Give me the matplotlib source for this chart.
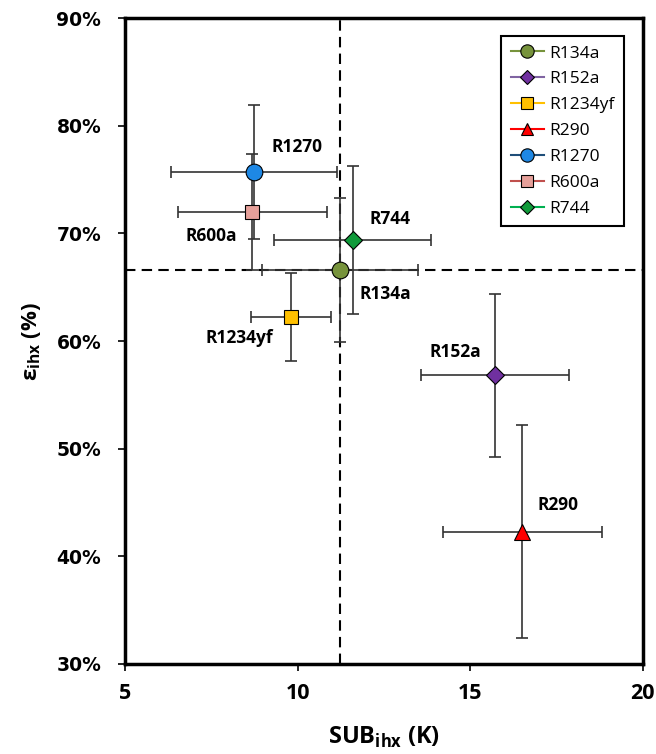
import numpy as np
import matplotlib
matplotlib.use("Agg")
import matplotlib.pyplot as plt
from matplotlib.ticker import FuncFormatter

plt.rcParams['mathtext.fontset'] = 'custom'
plt.rcParams['mathtext.rm'] = 'Open Sans:bold'
plt.rcParams['mathtext.bf'] = 'Open Sans:bold'

# data
refrigerants = ['R134a', 'R152a', 'R1234yf', 'R290', 'R1270', 'R600a', 'R744']
sub_ihx = [11.23, 15.72, 9.82, 16.51, 8.74, 8.69, 11.59]        # K
sub_err = [2.25, 2.15, 1.16, 2.3, 2.4, 2.15, 2.26]
eps_ihx = [66.6, 56.8, 62.2, 42.3, 75.7, 72.0, 69.4]           # %
eps_err = [6.7, 7.6, 4.1, 9.9, 6.2, 5.4, 6.9]

marker_shapes = ['o', 'D', 's', '^', 'o', 's', 'D']
face_colors = ['#77933C', '#7030A0', '#FFC000', '#FF0000', '#1E88E5', '#E6A09A', '#109A3A']
line_colors = ['#77933C', '#8064A2', '#FFC000', '#FF0000', '#1F4E79', '#C0504D', '#00B050']
marker_sizes = [12, 9, 10.5, 11.5, 12, 10.5, 9.5]

# label positions (data coords)
label_pos = {
    'R1270': (9.98, 78.0), 'R600a': (7.5, 69.8), 'R744': (12.67, 71.3),
    'R134a': (12.53, 64.4), 'R1234yf': (8.3, 60.3), 'R152a': (14.56, 59.0),
    'R290': (17.54, 44.8),
}

fig = plt.figure(figsize=(6.56, 7.54), dpi=100)
ax = fig.add_axes([0.1905, 0.1194, 0.7895, 0.8566])

# reference dashed lines through R134a
ax.axvline(sub_ihx[0], color='black', ls=(0, (5, 3)), lw=1.5, zorder=1)
ax.axhline(eps_ihx[0], color='black', ls=(0, (5, 3)), lw=1.5, zorder=1)

for i, name in enumerate(refrigerants):
    ax.errorbar(sub_ihx[i], eps_ihx[i], xerr=sub_err[i], yerr=eps_err[i],
                fmt='none', ecolor='#333333', elinewidth=1.2, capsize=4,
                capthick=1.2, zorder=2)
    ax.plot(sub_ihx[i], eps_ihx[i], marker=marker_shapes[i], ls='-', lw=1.5,
            color=line_colors[i], mfc=face_colors[i], mec='black', mew=0.8,
            ms=marker_sizes[i], label=name, zorder=3)
    lx, ly = label_pos[name]
    ax.text(lx, ly, name, fontsize=12.5, fontweight='bold', family='Open Sans',
            ha='center', va='center')

ax.set_xlim(5, 20)
ax.set_ylim(30, 90)
ax.set_xticks([5, 10, 15, 20])
ax.set_yticks(np.arange(30, 91, 10))
ax.yaxis.set_major_formatter(FuncFormatter(lambda v, p: f'{v:.0f}%'))

for lab in ax.get_yticklabels():
    lab.set_fontsize(13.5)
    lab.set_fontweight('bold')
for lab in ax.get_xticklabels():
    lab.set_fontsize(15.5)
    lab.set_fontweight('bold')
    lab.set_family('Open Sans')

ax.tick_params(axis='y', direction='out', length=5, width=1.2, pad=12)
ax.tick_params(axis='x', direction='out', length=5, width=1.2, pad=9)
for sp in ax.spines.values():
    sp.set_linewidth(2.5)

ax.set_xlabel(r'SUB$_{\mathrm{ihx}}$ (K)', fontsize=17, fontweight='bold',
              family='Open Sans', labelpad=15)
ax.set_ylabel(r'ε$_{\mathrm{ihx}}$ (%)', fontsize=16, fontweight='bold',
              family='Open Sans', labelpad=10)

leg = ax.legend(loc='upper right', numpoints=1, fancybox=False, edgecolor='black',
                framealpha=1, prop={'family': 'Open Sans', 'size': 12.5},
                handlelength=1.9, handletextpad=0.3, markerscale=0.8,
                labelspacing=0.56, borderpad=0.55,
                bbox_to_anchor=(0.98, 0.986))
leg.get_frame().set_linewidth(1.5)

fig.savefig('out.png', dpi=100)
